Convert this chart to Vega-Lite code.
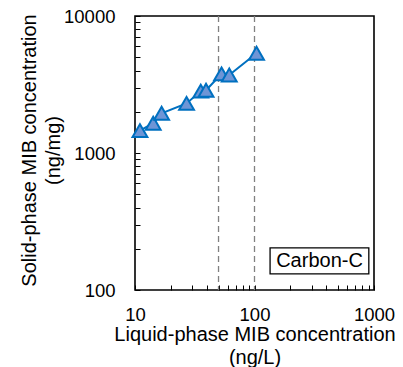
{
  "$schema": "https://vega.github.io/schema/vega-lite/v6.json",
  "width": 239,
  "height": 274,
  "autosize": {"type": "none"},
  "padding": {"left": 135, "top": 16, "right": 29, "bottom": 77},
  "background": "white",
  "config": {
    "view": {"stroke": "black", "strokeWidth": 1.6},
    "font": "Liberation Sans",
    "axis": {
      "grid": false,
      "domain": false,
      "tickColor": "black",
      "tickWidth": 1,
      "tickSize": -5,
      "labelFont": "Liberation Sans",
      "labelFontSize": 18.5,
      "labelColor": "black",
      "titleFont": "Liberation Sans",
      "titleFontSize": 20,
      "titleFontWeight": "normal",
      "titleColor": "black"
    }
  },
  "datasets": {
    "pts": [
      {"x": 11, "y": 1455},
      {"x": 14.2, "y": 1650},
      {"x": 16.7, "y": 1950},
      {"x": 27, "y": 2300},
      {"x": 35.5, "y": 2830},
      {"x": 39.3, "y": 2870},
      {"x": 53, "y": 3780},
      {"x": 61.5, "y": 3710},
      {"x": 104, "y": 5350}
    ],
    "vlines": [{"x": 50}, {"x": 100}],
    "box": [{"x1": 135, "x2": 905, "y1": 131, "y2": 203, "xc": 350, "yc": 163, "label": "Carbon-C"}]
  },
  "layer": [
    {
      "data": {"name": "vlines"},
      "mark": {"type": "rule", "color": "#808080", "strokeWidth": 1.3, "strokeDash": [6, 4]},
      "encoding": {
        "x": {"field": "x", "type": "quantitative", "scale": {"type": "log", "domain": [10, 1000]},
          "axis": {
            "values": [10,20,30,40,50,60,70,80,90,100,200,300,400,500,600,700,800,900,1000],
            "labelExpr": "(datum.value == 10 || datum.value == 100 || datum.value == 1000) ? datum.value : ''",
            "labelPadding": 20,
            "labelFlush": false,
            "title": ["Liquid-phase MIB concentration", "(ng/L)"],
            "titleY": 34,
            "titleLineHeight": 23
          }
        }
      }
    },
    {
      "data": {"name": "pts"},
      "mark": {"type": "line", "color": "#0070C0", "strokeWidth": 2},
      "encoding": {
        "x": {"field": "x", "type": "quantitative"},
        "y": {"field": "y", "type": "quantitative", "scale": {"type": "log", "domain": [100, 10000]},
          "axis": {
            "values": [100,200,300,400,500,600,700,800,900,1000,2000,3000,4000,5000,6000,7000,8000,9000,10000],
            "labelExpr": "(datum.value == 100 || datum.value == 1000 || datum.value == 10000) ? datum.value : ''",
            "labelPadding": 25,
            "labelFlush": false,
            "title": ["Solid-phase MIB concentration", "(ng/mg)"],
            "titleX": -96,
            "titleY": 134,
            "titleLineHeight": 24
          }
        }
      }
    },
    {
      "data": {"name": "pts"},
      "mark": {"type": "point", "shape": "triangle-up", "filled": true, "size": 220, "fill": "#6E95D6", "stroke": "#0070C0", "strokeWidth": 2, "opacity": 1},
      "encoding": {
        "x": {"field": "x", "type": "quantitative"},
        "y": {"field": "y", "type": "quantitative"}
      }
    },
    {
      "data": {"name": "box"},
      "mark": {"type": "rect", "fill": "white", "stroke": "black", "strokeWidth": 1.3},
      "encoding": {
        "x": {"field": "x1", "type": "quantitative"},
        "x2": {"field": "x2"},
        "y": {"field": "y1", "type": "quantitative"},
        "y2": {"field": "y2"}
      }
    },
    {
      "data": {"name": "box"},
      "mark": {"type": "text", "fontSize": 20, "font": "Liberation Sans", "color": "black", "align": "center", "baseline": "middle"},
      "encoding": {
        "x": {"field": "xc", "type": "quantitative"},
        "y": {"field": "yc", "type": "quantitative"},
        "text": {"field": "label"}
      }
    }
  ]
}
